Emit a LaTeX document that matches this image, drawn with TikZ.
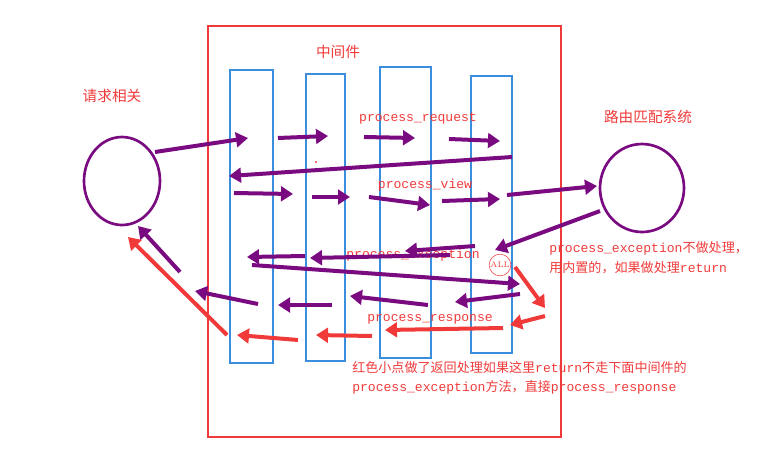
\documentclass[tikz,border=0pt]{standalone}
\usepackage{fontspec}
\setmonofont{Liberation Mono}
\newfontfamily\cjk{Noto Sans CJK SC}
\usetikzlibrary{arrows.meta,shapes.geometric}
\definecolor{pur}{HTML}{7A0A80}
\definecolor{rd}{HTML}{F03A3A}
\definecolor{bl}{HTML}{3A8EDC}
\tikzset{
 parr/.style={draw=pur,line width=3pt,-{Triangle[length=9pt,width=11pt]}},
 rarr/.style={draw=rd,line width=3pt,-{Triangle[length=9pt,width=11pt]}},
 col/.style={draw=bl,line width=1.5pt},
 lbl/.style={text=rd,font=\ttfamily\fontsize{9.8}{11}\selectfont,inner sep=0pt},
 clbl/.style={text=rd,font=\cjk\fontsize{9.8}{11}\selectfont,inner sep=0pt,anchor=west},
 ttl/.style={text=rd,font=\cjk\fontsize{11}{13}\selectfont,inner sep=0pt},
}
\begin{document}
\begin{tikzpicture}[x=0.75pt,y=-0.75pt]
\useasboundingbox (0,0) rectangle (761,451);
\draw[rd,line width=1.5pt] (208,26) rectangle (561,437);
\draw[col] (230,70) rectangle (273,363);
\draw[col] (306,74) rectangle (345,361);
\draw[col] (380,67) rectangle (431,358);
\draw[col] (471,76) rectangle (512,353);
\node[draw=pur,line width=2pt,ellipse,minimum width=57pt,minimum height=66pt,inner sep=0pt] (L) at (122,181) {};
\node[draw=pur,line width=2pt,ellipse,minimum width=63pt,minimum height=66pt,inner sep=0pt] (R) at (642,188) {};
\node[ttl] (t1) at (338,52) {中间件};
\node[ttl] (t2) at (112,96) {请求相关};
\node[ttl] (t3) at (648,117) {路由匹配系统};
\node[lbl] (pr) at (418,118) {process\_request};
\node[lbl] (pv) at (425,185) {process\_view};
\node[lbl] (pe) at (413,255) {process\_exception};
\node[lbl] (ps) at (430,319) {process\_response};
\node[lbl,anchor=west] (n1) at (549,248) {process\_exception{\cjk 不做处理，}};
\node[clbl] (n2) at (549,268) {用内置的，如果做处理{\ttfamily return}};
\node[clbl] (n3) at (352,367) {红色小点做了返回处理如果这里{\ttfamily return}不走下面中间件的};
\node[lbl,anchor=west] (n4) at (352,387) {process\_exception{\cjk 方法，直接}process\_response};
\node[text=rd,font=\fontsize{6}{7}\selectfont,draw=rd,circle,inner sep=0.5pt] (dot) at (500,265) {ALL};
\fill[rd] (316,162) circle (0.8pt);
\draw[parr] (155,152) -- (248,138);
\draw[parr] (278,138) -- (328,136);
\draw[parr] (364,137) -- (415,138);
\draw[parr] (449,139) -- (500,141);
\draw[parr] (512,157) -- (229,176);
\draw[parr] (234,193) -- (293,194);
\draw[parr] (312,197) -- (350,197);
\draw[parr] (369,197) -- (430,205);
\draw[parr] (442,201) -- (500,199);
\draw[parr] (507,195) -- (597,186);
\draw[parr] (600,211) -- (495,250);
\draw[parr] (475,246) -- (405,251);
\draw[parr] (450,255) -- (310,258);
\draw[parr] (305,256) -- (247,257);
\draw[parr] (252,265) -- (520,284);
\draw[parr] (520,294) -- (455,302);
\draw[parr] (428,305) -- (350,296);
\draw[parr] (332,305) -- (278,305);
\draw[parr] (258,304) -- (195,291);
\draw[parr] (180,272) -- (138,226);
\draw[rarr] (515,267) -- (545,308);
\draw[rarr] (545,316) -- (510,325);
\draw[rarr] (503,328) -- (385,330);
\draw[rarr] (372,336) -- (316,335);
\draw[rarr] (298,340) -- (237,335);
\draw[rarr] (227,335) -- (128,237);
\end{tikzpicture}
\end{document}
